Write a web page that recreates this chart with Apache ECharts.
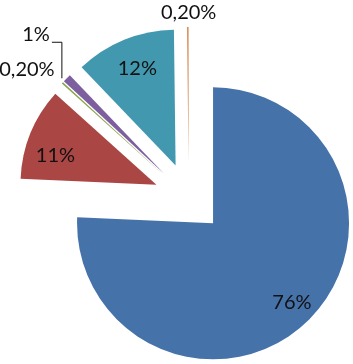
<!DOCTYPE html>
<html>
<head>
<meta charset="utf-8">
<script src="https://cdn.jsdelivr.net/npm/echarts@6/dist/echarts.min.js"></script>
<style>
html,body{margin:0;padding:0;background:#fff;}
#chart{width:353px;height:364px;}
</style>
</head>
<body>
<div id="chart"></div>
<script>
// Data
const categories = ['A', 'B', 'C', 'D', 'E', 'F'];
const values = [76, 11, 0.2, 1, 12, 0.2];
const colors = ['#4672AA', '#AA4644', '#8AA54A', '#7D5FA0', '#4198AF', '#D9925E'];
const insideLabelIdx = [0, 1, 4];

function fmt(v) {
  return (v < 1 ? v.toFixed(2).replace('.', ',') : String(v)) + '%';
}

const FONT = 'Lato';
const FS = 20;
const R = 136;
const OFFSET = 35;
const center = ['53.5%', '54.4%'];

// label-line lengths of the small outside labels (styling only)
const smallLabelLines = {
  2: { show: false, length: 20, length2: -12 },
  3: { show: true, length: 63, length2: -33 },
  5: { show: false, length: 14, length2: -6 }
};
// small nudges of the inside labels (styling only)
const insidePadding = {
  0: [0, 0, 0, 7],
  1: [2, 0, 0, 0],
  4: [-6, 0, 0, 6]
};
const insideTopAligned = [1, 4];

const mainData = values.map((v, i) => ({
  name: categories[i],
  value: v,
  selected: true,
  itemStyle: { color: colors[i] },
  label: { show: insideLabelIdx.indexOf(i) < 0 },
  labelLine: smallLabelLines[i] || { show: false }
}));

const overlayData = values.map((v, i) => ({
  name: categories[i],
  value: v,
  selected: true,
  itemStyle: { color: 'rgba(0,0,0,0)' },
  label: { show: insideLabelIdx.indexOf(i) >= 0, padding: insidePadding[i] || 0 }
}));

function smallLabelLayout(p) {
  const r = p.rect;
  if (p.dataIndex === 3) {
    const ax = r.x - 2, ay = r.y + 3;
    return {
      labelLinePoints: [[ax, ay], [ax, ay - 36], [ax - 10, ay - 36]]
    };
  }
  if (p.dataIndex === 5) {
    return { align: 'center', verticalAlign: 'middle' };
  }
}

function insideLabelLayout(p) {
  if (insideTopAligned.indexOf(p.dataIndex) >= 0) {
    return { verticalAlign: 'top' };
  }
}

const chart = echarts.init(document.getElementById('chart'), null, { renderer: 'canvas' });
chart.setOption({
  animation: false,
  series: [
    {
      type: 'pie',
      center: center,
      radius: [0, R],
      startAngle: 90,
      clockwise: true,
      selectedMode: 'multiple',
      selectedOffset: OFFSET,
      avoidLabelOverlap: false,
      silent: true,
      data: mainData,
      itemStyle: { borderWidth: 0 },
      label: {
        position: 'outside',
        color: '#111',
        fontFamily: FONT,
        fontSize: FS,
        overflow: 'none',
        formatter: p => fmt(p.value)
      },
      labelLine: {
        lineStyle: { color: '#111', width: 1 }
      },
      labelLayout: smallLabelLayout
    },
    {
      type: 'pie',
      center: center,
      radius: [0, R * 1.56],
      startAngle: 90,
      clockwise: true,
      selectedMode: 'multiple',
      selectedOffset: OFFSET,
      silent: true,
      data: overlayData,
      itemStyle: { borderWidth: 0 },
      label: {
        position: 'inside',
        color: '#111',
        fontFamily: FONT,
        fontSize: FS,
        formatter: p => fmt(p.value)
      },
      labelLine: { show: false },
      labelLayout: insideLabelLayout
    }
  ]
});
</script>
</body>
</html>
